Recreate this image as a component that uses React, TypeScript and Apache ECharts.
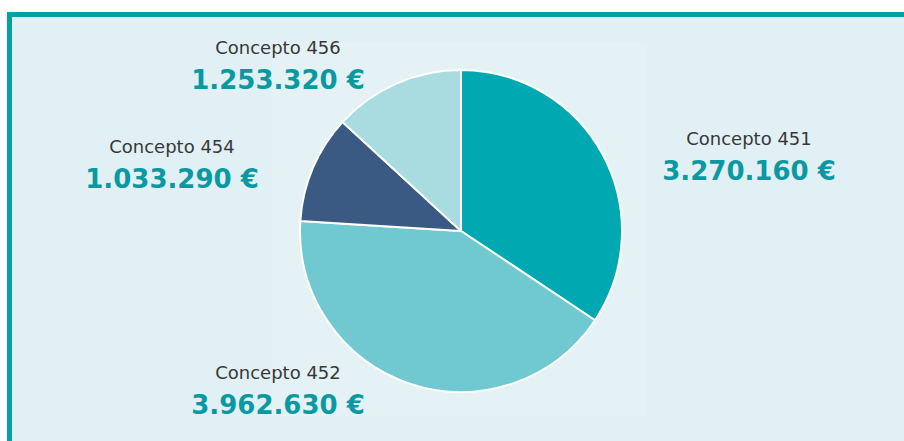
import React, { useEffect, useRef } from "react";
import * as echarts from "echarts";

const categories = ["Concepto 451", "Concepto 452", "Concepto 454", "Concepto 456"];
const values = [3270160, 3962630, 1033290, 1253320];
const valueLabels = ["3.270.160 €", "3.962.630 €", "1.033.290 €", "1.253.320 €"];
const sliceColors = ["#00A9B2", "#70C9D0", "#3B5A83", "#A9DCE1"];
// label anchor (center x, top y) for each slice
const labelAnchors = [
  [749, 123],
  [278, 357],
  [172, 131],
  [278, 32],
];

export default function App() {
  const ref = useRef<HTMLDivElement>(null);
  useEffect(() => {
    if (!ref.current) return;
    const chart = echarts.init(ref.current, undefined, { renderer: "svg" });
    chart.setOption({
      animation: false,
      backgroundColor: "#ffffff",
      graphic: [
        { type: "rect", z: -10, silent: true, shape: { x: 7, y: 12, width: 910, height: 440 }, style: { fill: "#04A1A9" } },
        { type: "rect", z: -9, silent: true, shape: { x: 12, y: 17, width: 900, height: 440 }, style: { fill: "#E0F0F4" } },
        { type: "rect", z: -8, silent: true, shape: { x: 272, y: 42, width: 375, height: 375 }, style: { fill: "#E4F2F5" } },
      ],
      series: [
        {
          type: "pie",
          center: [461, 231],
          radius: 161,
          startAngle: 90,
          clockwise: true,
          itemStyle: { borderColor: "#ffffff", borderWidth: 2 },
          labelLine: { show: false },
          label: {
            show: true,
            position: "outside",
            formatter: (p: any) => `{n|${categories[p.dataIndex]}}\n{v|${valueLabels[p.dataIndex]}}`,
            rich: {
              n: { fontFamily: "DejaVu Sans", fontSize: 18, color: "#383838", lineHeight: 30, align: "center" },
              v: { fontFamily: "DejaVu Sans", fontWeight: "bold", fontSize: 26, color: "#0A99A3", lineHeight: 36, align: "center" },
            },
          },
          labelLayout: (p: any) => ({
            x: labelAnchors[p.dataIndex][0],
            y: labelAnchors[p.dataIndex][1],
            align: "center",
            verticalAlign: "top",
          }),
          data: categories.map((name, i) => ({
            name,
            value: values[i],
            itemStyle: { color: sliceColors[i] },
          })),
        },
      ],
    });
    return () => chart.dispose();
  }, []);
  return (
    <div style={{ position: "fixed", left: 0, top: 0, width: 904, height: 441 }}>
      <div ref={ref} style={{ width: 904, height: 441 }} />
    </div>
  );
}
